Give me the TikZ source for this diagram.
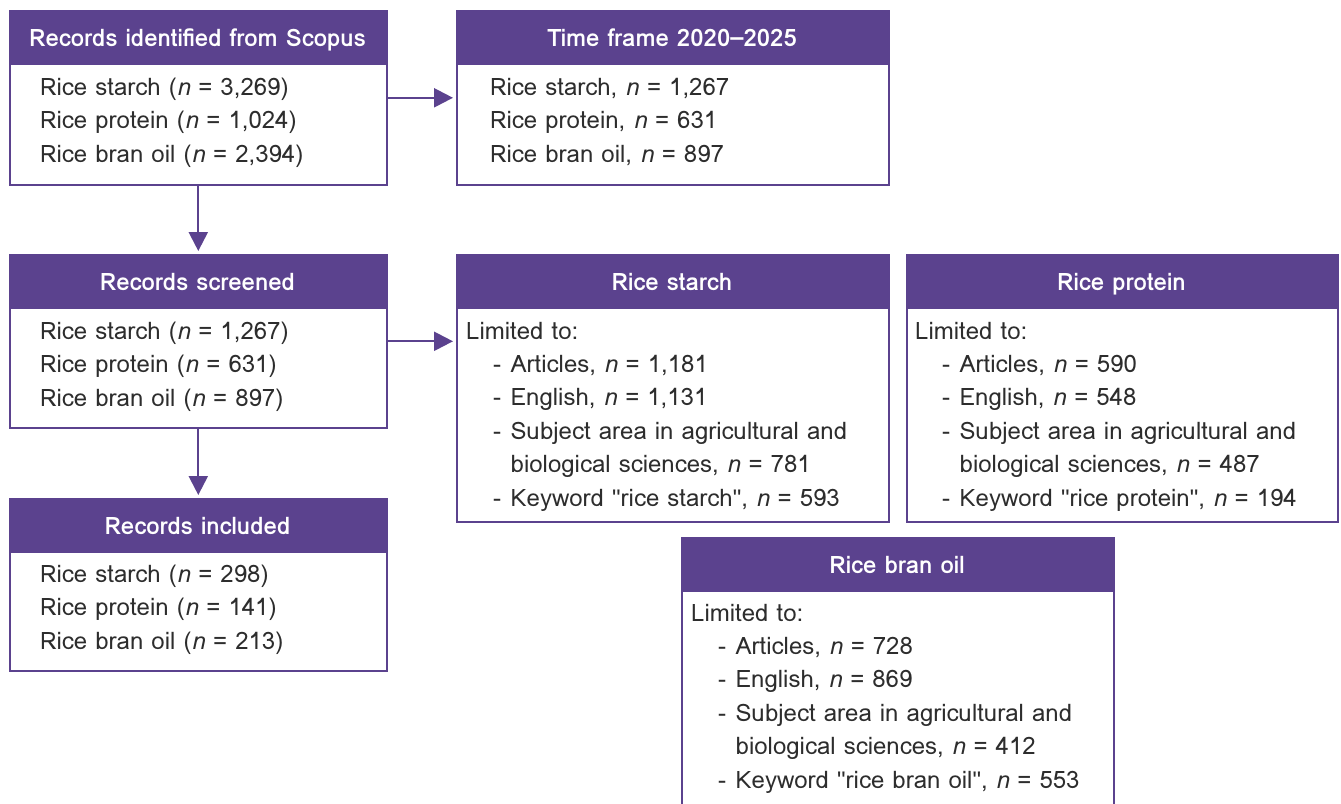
\documentclass[tikz,border=0pt]{standalone}
\usepackage{fontspec}
\setmainfont{Loma}
\newfontfamily\qf{Liberation Sans}
\usetikzlibrary{arrows.meta}
\definecolor{pur}{RGB}{91,66,142}
\definecolor{ink}{RGB}{45,45,45}
\newcommand\dd{\makebox[17.5pt][l]{-}}
\newcommand\ds{\hspace*{17.5pt}}
\newcommand\qq{{\qf"}}
\newcommand\rows[5]{%
  \foreach \t [count=\i] in {#5} {\node[txt] (#1\i) at (#2, {#3+(\i-1)*#4}) {\t};}}
\tikzset{
  frame/.style={draw=pur, line width=1.6pt, anchor=north west, inner sep=0pt, fill=white},
  hdr/.style={fill=pur, draw=pur, line width=1.6pt, anchor=north west, inner sep=0pt, minimum height=53pt},
  htxt/.style={text=white, font=\bfseries\fontsize{24}{28}\selectfont, anchor=base, inner sep=0pt},
  txt/.style={text=ink, font=\fontsize{24}{28}\selectfont, anchor=base west, inner sep=0pt},
  arr/.style={draw=pur, line width=2.3pt, -{Triangle[length=19pt,width=19pt]}, shorten >=3pt}
}
\begin{document}
\begin{tikzpicture}[x=1pt,y=-1pt]
\useasboundingbox (0,0) rectangle (1341,803);
\clip (0,0) rectangle (1341,803);
% Box A
\node[frame, minimum width=377pt, minimum height=174pt] (A) at (9,10) {};
\node[hdr, minimum width=377pt] (Ah) at (9,10) {};
\node[htxt] (At) at (197.5,46) {Records identified from Scopus};
\rows{a}{40}{95}{33.5}{{Rice starch (\textit{n} = 3,269)},{Rice protein (\textit{n} = 1,024)},{Rice bran oil (\textit{n} = 2,394)}}
% Box B
\node[frame, minimum width=432pt, minimum height=174pt] (B) at (456,10) {};
\node[hdr, minimum width=432pt] (Bh) at (456,10) {};
\node[htxt] (Bt) at (672,46) {Time frame 2020–2025};
\rows{b}{490}{95}{33.5}{{Rice starch, \textit{n} = 1,267},{Rice protein, \textit{n} = 631},{Rice bran oil, \textit{n} = 897}}
% Box C
\node[frame, minimum width=377pt, minimum height=173pt] (C) at (9,254) {};
\node[hdr, minimum width=377pt] (Ch) at (9,254) {};
\node[htxt] (Ct) at (197.5,290) {Records screened};
\rows{c}{40}{339}{33.5}{{Rice starch (\textit{n} = 1,267)},{Rice protein (\textit{n} = 631)},{Rice bran oil (\textit{n} = 897)}}
% Box D
\node[frame, minimum width=377pt, minimum height=172pt] (D) at (9,498) {};
\node[hdr, minimum width=377pt] (Dh) at (9,498) {};
\node[htxt] (Dt) at (197.5,534) {Records included};
\rows{d}{40}{582}{33.5}{{Rice starch (\textit{n} = 298)},{Rice protein (\textit{n} = 141)},{Rice bran oil (\textit{n} = 213)}}
% Box E
\node[frame, minimum width=432pt, minimum height=267pt] (E) at (456,254) {};
\node[hdr, minimum width=432pt] (Eh) at (456,254) {};
\node[htxt] (Et) at (672,290) {Rice starch};
\node[txt] (e0) at (466,339) {Limited to:};
\rows{e}{493}{372.4}{33.4}{{\dd Articles, \textit{n} = 1,181},{\dd English, \textit{n} = 1,131},{\dd Subject area in agricultural and},{\ds biological sciences, \textit{n} = 781},{\dd Keyword \qq rice starch\qq, \textit{n} = 593}}
% Box F
\node[frame, minimum width=431pt, minimum height=267pt] (F) at (906,254) {};
\node[hdr, minimum width=431pt] (Fh) at (906,254) {};
\node[htxt] (Ft) at (1121.5,290) {Rice protein};
\node[txt] (f0) at (915,339) {Limited to:};
\rows{f}{942}{372.4}{33.4}{{\dd Articles, \textit{n} = 590},{\dd English, \textit{n} = 548},{\dd Subject area in agricultural and},{\ds biological sciences, \textit{n} = 487},{\dd Keyword \qq rice protein\qq, \textit{n} = 194}}
% Box G
\node[frame, minimum width=432pt, minimum height=290pt] (G) at (681,537) {};
\node[hdr, minimum width=432pt] (Gh) at (681,537) {};
\node[htxt] (Gt) at (897,573) {Rice bran oil};
\node[txt] (g0) at (691,621) {Limited to:};
\rows{g}{718}{654.4}{33.4}{{\dd Articles, \textit{n} = 728},{\dd English, \textit{n} = 869},{\dd Subject area in agricultural and},{\ds biological sciences, \textit{n} = 412},{\dd Keyword \qq rice bran oil\qq, \textit{n} = 553}}
% connectors
\draw[arr] (A.east) -- (B.west);
\draw[arr] (A.south) -- (C.north);
\draw[arr] (C.south) -- (D.north);
\draw[arr] (C.east) -- (C.east -| E.west);
\end{tikzpicture}
\end{document}
